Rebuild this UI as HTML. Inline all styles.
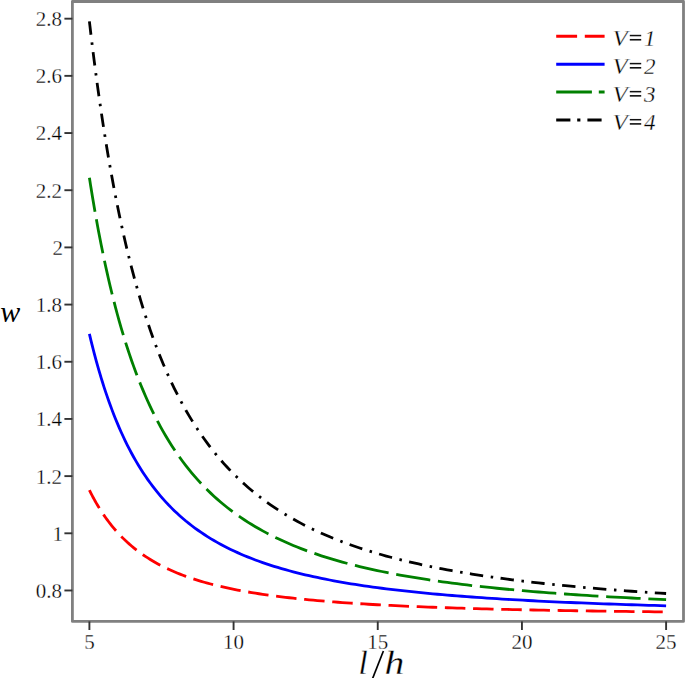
<!DOCTYPE html>
<html><head><meta charset="utf-8"><style>
html,body{margin:0;padding:0;background:#fff;}
body{width:685px;height:678px;overflow:hidden;}
svg{display:block;}
text{font-family:"Liberation Serif",serif;stroke:#fff;stroke-width:0.3px;paint-order:fill;}
</style></head><body>
<svg width="685" height="678" viewBox="0 0 685 678">
<rect width="685" height="678" fill="#fff"/>
<g fill="none" stroke-width="2.8" stroke-linecap="butt" stroke-linejoin="round">
<path d="M89.40,490.18 L89.57,490.53 L89.93,491.24 L90.40,492.20 L90.99,493.36 L91.68,494.68 L92.45,496.15 L93.30,497.75 L94.23,499.45 L95.23,501.24 L96.30,503.11 L97.43,505.05 L98.63,507.04 L99.90,509.08 L101.22,511.16 L102.60,513.26 L104.03,515.38 L105.52,517.51 L107.07,519.65 L108.66,521.79 L110.31,523.92 L112.01,526.05 L113.76,528.16 L115.55,530.25 L117.39,532.32 L119.28,534.37 L121.22,536.39 L123.20,538.38 L125.22,540.34 L127.29,542.26 L129.40,544.16 L131.56,546.01 L133.76,547.83 L135.99,549.61 L138.27,551.36 L140.59,553.07 L142.95,554.73 L145.35,556.36 L147.79,557.95 L150.27,559.51 L152.79,561.02 L155.34,562.49 L157.94,563.93 L160.56,565.33 L163.23,566.70 L165.93,568.02 L168.67,569.31 L171.45,570.57 L174.26,571.79 L177.11,572.98 L179.99,574.13 L182.90,575.26 L185.85,576.35 L188.84,577.41 L191.86,578.44 L194.91,579.44 L198.00,580.41 L201.12,581.35 L204.27,582.26 L207.45,583.15 L210.67,584.02 L213.92,584.85 L217.20,585.67 L220.52,586.46 L223.86,587.22 L227.24,587.97 L230.65,588.69 L234.09,589.39 L237.56,590.07 L241.06,590.73 L244.59,591.37 L248.16,591.99 L251.75,592.60 L255.37,593.18 L259.02,593.75 L262.71,594.31 L266.42,594.84 L270.16,595.36 L273.93,595.87 L277.73,596.36 L281.56,596.84 L285.42,597.30 L289.30,597.75 L293.22,598.19 L297.16,598.61 L301.13,599.02 L305.13,599.42 L309.16,599.81 L313.21,600.19 L317.30,600.56 L321.41,600.91 L325.55,601.26 L329.71,601.60 L333.90,601.92 L338.12,602.24 L342.37,602.55 L346.65,602.85 L350.95,603.14 L355.27,603.43 L359.63,603.70 L364.01,603.97 L368.42,604.23 L372.85,604.49 L377.31,604.74 L381.79,604.98 L386.30,605.21 L390.84,605.44 L395.41,605.66 L399.99,605.88 L404.61,606.09 L409.25,606.29 L413.91,606.49 L418.60,606.68 L423.32,606.87 L428.06,607.05 L432.82,607.23 L437.61,607.41 L442.43,607.58 L447.27,607.74 L452.14,607.90 L457.02,608.06 L461.94,608.21 L466.88,608.36 L471.84,608.51 L476.83,608.65 L481.84,608.78 L486.87,608.92 L491.93,609.05 L497.02,609.18 L502.12,609.30 L507.25,609.42 L512.41,609.54 L517.59,609.66 L522.79,609.77 L528.01,609.88 L533.26,609.99 L538.53,610.09 L543.83,610.19 L549.15,610.29 L554.49,610.39 L559.86,610.48 L565.24,610.57 L570.66,610.66 L576.09,610.75 L581.55,610.84 L587.03,610.92 L592.53,611.00 L598.05,611.08 L603.60,611.16 L609.17,611.24 L614.76,611.31 L620.38,611.39 L626.02,611.46 L631.68,611.53 L637.36,611.59 L643.06,611.66 L648.79,611.72 L654.54,611.79 L660.31,611.85 L666.10,611.91" stroke="#ff0000" stroke-dasharray="20.5 7.7"/>
<path d="M89.40,333.93 L89.57,334.66 L89.93,336.14 L90.40,338.14 L90.99,340.56 L91.68,343.34 L92.45,346.42 L93.30,349.77 L94.23,353.34 L95.23,357.11 L96.30,361.06 L97.43,365.15 L98.63,369.36 L99.90,373.67 L101.22,378.07 L102.60,382.53 L104.03,387.05 L105.52,391.59 L107.07,396.16 L108.66,400.74 L110.31,405.31 L112.01,409.88 L113.76,414.42 L115.55,418.93 L117.39,423.40 L119.28,427.84 L121.22,432.22 L123.20,436.54 L125.22,440.81 L127.29,445.02 L129.40,449.15 L131.56,453.22 L133.76,457.22 L135.99,461.14 L138.27,464.98 L140.59,468.75 L142.95,472.44 L145.35,476.05 L147.79,479.59 L150.27,483.04 L152.79,486.41 L155.34,489.71 L157.94,492.93 L160.56,496.07 L163.23,499.13 L165.93,502.11 L168.67,505.03 L171.45,507.86 L174.26,510.63 L177.11,513.32 L179.99,515.94 L182.90,518.49 L185.85,520.98 L188.84,523.39 L191.86,525.75 L194.91,528.03 L198.00,530.26 L201.12,532.43 L204.27,534.53 L207.45,536.58 L210.67,538.57 L213.92,540.51 L217.20,542.39 L220.52,544.22 L223.86,546.00 L227.24,547.74 L230.65,549.42 L234.09,551.05 L237.56,552.64 L241.06,554.19 L244.59,555.69 L248.16,557.15 L251.75,558.57 L255.37,559.95 L259.02,561.29 L262.71,562.60 L266.42,563.86 L270.16,565.10 L273.93,566.30 L277.73,567.46 L281.56,568.59 L285.42,569.70 L289.30,570.77 L293.22,571.81 L297.16,572.83 L301.13,573.81 L305.13,574.77 L309.16,575.70 L313.21,576.61 L317.30,577.49 L321.41,578.35 L325.55,579.19 L329.71,580.00 L333.90,580.80 L338.12,581.57 L342.37,582.32 L346.65,583.05 L350.95,583.76 L355.27,584.45 L359.63,585.12 L364.01,585.78 L368.42,586.42 L372.85,587.04 L377.31,587.65 L381.79,588.24 L386.30,588.82 L390.84,589.38 L395.41,589.92 L399.99,590.45 L404.61,590.97 L409.25,591.48 L413.91,591.97 L418.60,592.45 L423.32,592.92 L428.06,593.38 L432.82,593.82 L437.61,594.26 L442.43,594.68 L447.27,595.09 L452.14,595.50 L457.02,595.89 L461.94,596.27 L466.88,596.65 L471.84,597.01 L476.83,597.37 L481.84,597.72 L486.87,598.05 L491.93,598.39 L497.02,598.71 L502.12,599.03 L507.25,599.33 L512.41,599.63 L517.59,599.93 L522.79,600.22 L528.01,600.50 L533.26,600.77 L538.53,601.04 L543.83,601.30 L549.15,601.55 L554.49,601.80 L559.86,602.05 L565.24,602.29 L570.66,602.52 L576.09,602.75 L581.55,602.97 L587.03,603.19 L592.53,603.40 L598.05,603.61 L603.60,603.81 L609.17,604.01 L614.76,604.21 L620.38,604.40 L626.02,604.58 L631.68,604.77 L637.36,604.94 L643.06,605.12 L648.79,605.29 L654.54,605.46 L660.31,605.62 L666.10,605.78" stroke="#0000ff"/>
<path d="M89.40,177.67 L89.57,178.79 L89.93,181.04 L90.40,184.09 L90.99,187.77 L91.68,192.00 L92.45,196.69 L93.30,201.78 L94.23,207.23 L95.23,212.99 L96.30,219.00 L97.43,225.24 L98.63,231.67 L99.90,238.26 L101.22,244.98 L102.60,251.81 L104.03,258.71 L105.52,265.67 L107.07,272.67 L108.66,279.69 L110.31,286.70 L112.01,293.71 L113.76,300.68 L115.55,307.61 L117.39,314.49 L119.28,321.30 L121.22,328.05 L123.20,334.71 L125.22,341.29 L127.29,347.77 L129.40,354.15 L131.56,360.43 L133.76,366.60 L135.99,372.66 L138.27,378.61 L140.59,384.44 L142.95,390.15 L145.35,395.74 L147.79,401.22 L150.27,406.57 L152.79,411.81 L155.34,416.92 L157.94,421.92 L160.56,426.80 L163.23,431.56 L165.93,436.21 L168.67,440.74 L171.45,445.15 L174.26,449.46 L177.11,453.66 L179.99,457.74 L182.90,461.73 L185.85,465.60 L188.84,469.38 L191.86,473.06 L194.91,476.63 L198.00,480.12 L201.12,483.50 L204.27,486.80 L207.45,490.01 L210.67,493.13 L213.92,496.17 L217.20,499.12 L220.52,501.99 L223.86,504.79 L227.24,507.50 L230.65,510.15 L234.09,512.72 L237.56,515.21 L241.06,517.64 L244.59,520.01 L248.16,522.31 L251.75,524.54 L255.37,526.72 L259.02,528.83 L262.71,530.89 L266.42,532.89 L270.16,534.83 L273.93,536.72 L277.73,538.56 L281.56,540.35 L285.42,542.09 L289.30,543.79 L293.22,545.44 L297.16,547.04 L301.13,548.60 L305.13,550.12 L309.16,551.60 L313.21,553.03 L317.30,554.43 L321.41,555.80 L325.55,557.12 L329.71,558.41 L333.90,559.67 L338.12,560.89 L342.37,562.08 L346.65,563.24 L350.95,564.37 L355.27,565.47 L359.63,566.55 L364.01,567.59 L368.42,568.61 L372.85,569.60 L377.31,570.56 L381.79,571.50 L386.30,572.42 L390.84,573.31 L395.41,574.18 L399.99,575.03 L404.61,575.86 L409.25,576.67 L413.91,577.46 L418.60,578.22 L423.32,578.97 L428.06,579.70 L432.82,580.41 L437.61,581.11 L442.43,581.78 L447.27,582.44 L452.14,583.09 L457.02,583.72 L461.94,584.33 L466.88,584.93 L471.84,585.52 L476.83,586.09 L481.84,586.65 L486.87,587.19 L491.93,587.72 L497.02,588.24 L502.12,588.75 L507.25,589.24 L512.41,589.73 L517.59,590.20 L522.79,590.66 L528.01,591.11 L533.26,591.55 L538.53,591.99 L543.83,592.41 L549.15,592.82 L554.49,593.22 L559.86,593.61 L565.24,594.00 L570.66,594.37 L576.09,594.74 L581.55,595.10 L587.03,595.45 L592.53,595.80 L598.05,596.13 L603.60,596.46 L609.17,596.78 L614.76,597.10 L620.38,597.41 L626.02,597.71 L631.68,598.00 L637.36,598.29 L643.06,598.58 L648.79,598.85 L654.54,599.12 L660.31,599.39 L666.10,599.65" stroke="#008000" stroke-dasharray="34.5 7.75"/>
<path d="M89.40,21.42 L89.57,22.92 L89.93,25.94 L90.40,30.03 L90.99,34.98 L91.68,40.65 L92.45,46.96 L93.30,53.80 L94.23,61.13 L95.23,68.86 L96.30,76.94 L97.43,85.34 L98.63,93.99 L99.90,102.85 L101.22,111.90 L102.60,121.09 L104.03,130.38 L105.52,139.76 L107.07,149.18 L108.66,158.64 L110.31,168.09 L112.01,177.54 L113.76,186.94 L115.55,196.29 L117.39,205.57 L119.28,214.77 L121.22,223.88 L123.20,232.88 L125.22,241.76 L127.29,250.52 L129.40,259.15 L131.56,267.64 L133.76,275.98 L135.99,284.18 L138.27,292.23 L140.59,300.12 L142.95,307.86 L145.35,315.43 L147.79,322.85 L150.27,330.11 L152.79,337.20 L155.34,344.14 L157.94,350.92 L160.56,357.53 L163.23,363.99 L165.93,370.30 L168.67,376.45 L171.45,382.45 L174.26,388.29 L177.11,393.99 L179.99,399.55 L182.90,404.96 L185.85,410.23 L188.84,415.37 L191.86,420.37 L194.91,425.23 L198.00,429.97 L201.12,434.58 L204.27,439.07 L207.45,443.44 L210.67,447.69 L213.92,451.82 L217.20,455.85 L220.52,459.76 L223.86,463.57 L227.24,467.27 L230.65,470.87 L234.09,474.38 L237.56,477.79 L241.06,481.10 L244.59,484.33 L248.16,487.46 L251.75,490.51 L255.37,493.48 L259.02,496.37 L262.71,499.18 L266.42,501.91 L270.16,504.56 L273.93,507.15 L277.73,509.66 L281.56,512.11 L285.42,514.49 L289.30,516.81 L293.22,519.06 L297.16,521.26 L301.13,523.39 L305.13,525.47 L309.16,527.49 L313.21,529.46 L317.30,531.37 L321.41,533.24 L325.55,535.05 L329.71,536.82 L333.90,538.54 L338.12,540.22 L342.37,541.85 L346.65,543.44 L350.95,544.99 L355.27,546.50 L359.63,547.97 L364.01,549.40 L368.42,550.79 L372.85,552.15 L377.31,553.48 L381.79,554.77 L386.30,556.03 L390.84,557.25 L395.41,558.45 L399.99,559.61 L404.61,560.75 L409.25,561.86 L413.91,562.94 L418.60,563.99 L423.32,565.02 L428.06,566.02 L432.82,567.00 L437.61,567.96 L442.43,568.89 L447.27,569.80 L452.14,570.68 L457.02,571.55 L461.94,572.39 L466.88,573.22 L471.84,574.02 L476.83,574.81 L481.84,575.58 L486.87,576.33 L491.93,577.06 L497.02,577.77 L502.12,578.47 L507.25,579.15 L512.41,579.82 L517.59,580.47 L522.79,581.11 L528.01,581.73 L533.26,582.34 L538.53,582.93 L543.83,583.51 L549.15,584.08 L554.49,584.64 L559.86,585.18 L565.24,585.71 L570.66,586.23 L576.09,586.74 L581.55,587.23 L587.03,587.72 L592.53,588.19 L598.05,588.66 L603.60,589.11 L609.17,589.56 L614.76,589.99 L620.38,590.42 L626.02,590.84 L631.68,591.24 L637.36,591.64 L643.06,592.04 L648.79,592.42 L654.54,592.79 L660.31,593.16 L666.10,593.52" stroke="#000000" stroke-dasharray="13.4 7.65 2.5 7.44"/>
</g>
<rect x="72.4" y="1.5" width="611.1" height="619.9" fill="none" stroke="#808080" stroke-width="2.8" stroke-linejoin="round"/>
<g stroke="#333" stroke-width="1.9"><line x1="64.4" y1="590.48" x2="72.4" y2="590.48"/><line x1="64.4" y1="533.30" x2="72.4" y2="533.30"/><line x1="64.4" y1="476.12" x2="72.4" y2="476.12"/><line x1="64.4" y1="418.94" x2="72.4" y2="418.94"/><line x1="64.4" y1="361.76" x2="72.4" y2="361.76"/><line x1="64.4" y1="304.58" x2="72.4" y2="304.58"/><line x1="64.4" y1="247.40" x2="72.4" y2="247.40"/><line x1="64.4" y1="190.22" x2="72.4" y2="190.22"/><line x1="64.4" y1="133.04" x2="72.4" y2="133.04"/><line x1="64.4" y1="75.86" x2="72.4" y2="75.86"/><line x1="64.4" y1="18.68" x2="72.4" y2="18.68"/><line x1="89.40" y1="621.4" x2="89.40" y2="630"/><line x1="233.58" y1="621.4" x2="233.58" y2="630"/><line x1="377.75" y1="621.4" x2="377.75" y2="630"/><line x1="521.93" y1="621.4" x2="521.93" y2="630"/><line x1="666.10" y1="621.4" x2="666.10" y2="630"/></g>
<g font-size="21" text-anchor="end" fill="#000"><text x="62" y="597.88">0.8</text><text x="62.9" y="540.70">1</text><text x="62" y="483.52">1.2</text><text x="62" y="426.34">1.4</text><text x="62" y="369.16">1.6</text><text x="62" y="311.98">1.8</text><text x="62.9" y="254.80">2</text><text x="62" y="197.62">2.2</text><text x="62" y="140.44">2.4</text><text x="62" y="83.26">2.6</text><text x="62" y="26.08">2.8</text></g>
<g font-size="21" text-anchor="middle" fill="#000"><text x="89.40" y="648.6">5</text><text x="233.58" y="648.6">10</text><text x="377.75" y="648.6">15</text><text x="521.93" y="648.6">20</text><text x="666.10" y="648.6">25</text></g>
<g font-size="33" font-style="italic" fill="#000">
<text x="358.6" y="673.6">l</text>
<text x="0" y="0" transform="translate(384.5,673.8) scale(1.2,1)">h</text>
<text x="0.2" y="321.6" font-size="30" style="stroke:none">w</text>
</g>
<line x1="383.4" y1="651" x2="372.2" y2="679.5" stroke="#000" stroke-width="1.7"/>
<g stroke-width="3" fill="none"><line x1="556.2" y1="36.2" x2="604.6" y2="36.2" stroke="#ff0000" stroke-dasharray="20.9 7.7"/><line x1="556.2" y1="64.2" x2="604.6" y2="64.2" stroke="#0000ff"/><line x1="556.2" y1="92.0" x2="604.6" y2="92.0" stroke="#008000" stroke-dasharray="35.7 6.9"/><line x1="556.2" y1="120.1" x2="604.6" y2="120.1" stroke="#000000" stroke-dasharray="14.2 6.8 3.2 7.0"/></g>
<g font-size="23" font-style="italic" fill="#000"><text transform="translate(612.6,45.7) scale(1.08,1)">V</text><text x="644.0" y="45.7">1</text><text transform="translate(612.6,73.75) scale(1.08,1)">V</text><text x="644.0" y="73.75">2</text><text transform="translate(612.6,101.8) scale(1.08,1)">V</text><text x="644.0" y="101.8">3</text><text transform="translate(612.6,129.85) scale(1.08,1)">V</text><text x="644.0" y="129.85">4</text></g>
<g fill="#111"><rect x="629.8" y="34.80" width="11.4" height="1.5"/><rect x="629.8" y="38.95" width="11.4" height="1.6"/><rect x="629.8" y="62.85" width="11.4" height="1.5"/><rect x="629.8" y="67.00" width="11.4" height="1.6"/><rect x="629.8" y="90.90" width="11.4" height="1.5"/><rect x="629.8" y="95.05" width="11.4" height="1.6"/><rect x="629.8" y="118.95" width="11.4" height="1.5"/><rect x="629.8" y="123.10" width="11.4" height="1.6"/></g>
</svg>
</body></html>
